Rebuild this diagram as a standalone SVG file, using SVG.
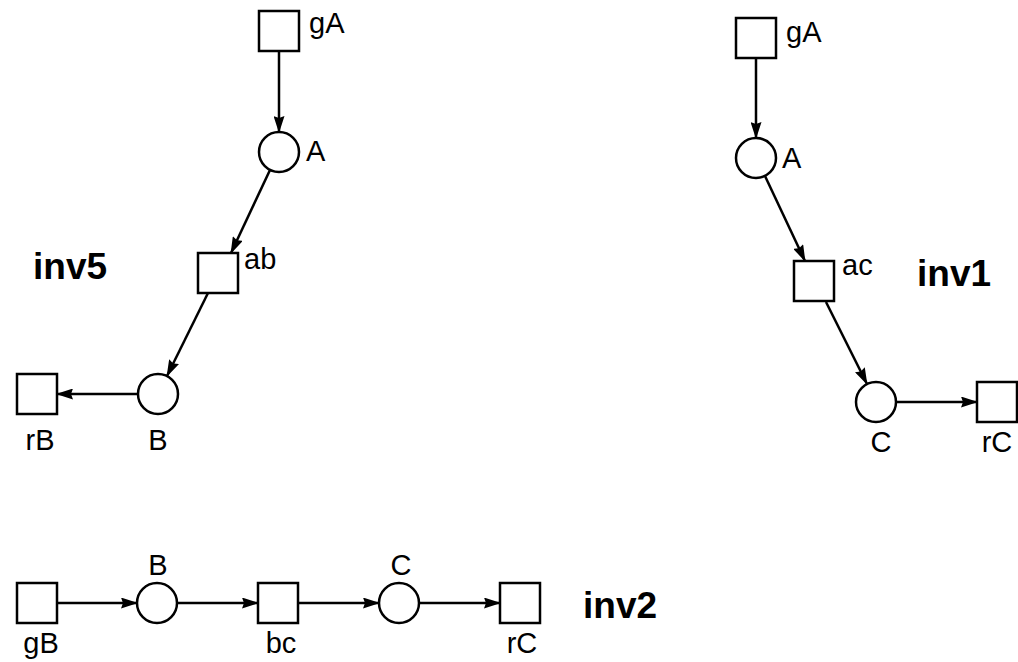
<svg xmlns="http://www.w3.org/2000/svg" width="1018" height="662" viewBox="0 0 1018 662">
<style>
.n{fill:#fff;stroke:#000;stroke-width:2.5}
.e{stroke:#000;stroke-width:2.5;fill:none;marker-end:url(#ah)}
.t{font-family:"Liberation Sans",Arial,sans-serif;font-size:29px;fill:#000}
.m{text-anchor:middle}
.b{font-family:"Liberation Sans",Arial,sans-serif;font-size:37px;font-weight:bold;fill:#000}
</style>
<defs>
<marker id="ah" markerUnits="userSpaceOnUse" markerWidth="17" markerHeight="11" refX="16" refY="5.5" orient="auto">
<path d="M0,0 L17,5.5 L0,11 L2,5.5 z" fill="#000"/>
</marker>
</defs>
<rect width="1018" height="662" fill="#fff"/>
<g id="connectors">
<line class="e" x1="279" y1="51" x2="279" y2="132"/>
<line class="e" x1="270" y1="170" x2="231" y2="253"/>
<line class="e" x1="208" y1="293" x2="167" y2="376"/>
<line class="e" x1="138" y1="394" x2="57" y2="394"/>
<line class="e" x1="756" y1="58" x2="756" y2="138"/>
<line class="e" x1="765" y1="176" x2="805" y2="261"/>
<line class="e" x1="826" y1="302" x2="867" y2="384"/>
<line class="e" x1="896" y1="402" x2="977" y2="402"/>
<line class="e" x1="57" y1="603" x2="137" y2="603"/>
<line class="e" x1="177" y1="603" x2="258" y2="603"/>
<line class="e" x1="298" y1="603" x2="379" y2="603"/>
<line class="e" x1="419" y1="603" x2="500" y2="603"/>
</g>
<g id="inv5-gA"><rect class="n" x="259" y="11" width="40" height="40"/><text class="t" x="309" y="33">gA</text></g>
<g id="inv5-A"><circle class="n" cx="279" cy="152" r="20"/><text class="t" x="306" y="161">A</text></g>
<g id="inv5-ab"><rect class="n" x="198" y="253" width="40" height="40"/><text class="t" x="244" y="269">ab</text></g>
<g id="inv5-B"><circle class="n" cx="158" cy="394" r="20"/><text class="t m" x="158" y="450">B</text></g>
<g id="inv5-rB"><rect class="n" x="17" y="374" width="40" height="40"/><text class="t m" x="40" y="450">rB</text></g>
<g id="inv5-label"><text class="b" x="33" y="279">inv5</text></g>

<g id="inv1-gA"><rect class="n" x="736" y="18" width="40" height="40"/><text class="t" x="786" y="42">gA</text></g>
<g id="inv1-A"><circle class="n" cx="756" cy="158" r="20"/><text class="t" x="782" y="168">A</text></g>
<g id="inv1-ac"><rect class="n" x="794" y="261" width="40" height="40"/><text class="t" x="842" y="275">ac</text></g>
<g id="inv1-C"><circle class="n" cx="876" cy="402" r="20"/><text class="t m" x="881" y="452">C</text></g>
<g id="inv1-rC"><rect class="n" x="977" y="382" width="40" height="40"/><text class="t m" x="997" y="452">rC</text></g>
<g id="inv1-label"><text class="b" x="917" y="286">inv1</text></g>

<g id="inv2-gB"><rect class="n" x="17" y="583" width="40" height="40"/><text class="t m" x="41" y="653">gB</text></g>
<g id="inv2-B"><circle class="n" cx="157" cy="603" r="20"/><text class="t m" x="158" y="575">B</text></g>
<g id="inv2-bc"><rect class="n" x="258" y="583" width="40" height="40"/><text class="t m" x="281" y="653">bc</text></g>
<g id="inv2-C"><circle class="n" cx="399" cy="603" r="20"/><text class="t m" x="401" y="575">C</text></g>
<g id="inv2-rC"><rect class="n" x="500" y="583" width="40" height="40"/><text class="t m" x="522" y="653">rC</text></g>
<g id="inv2-label"><text class="b" x="583" y="618">inv2</text></g>
</svg>
